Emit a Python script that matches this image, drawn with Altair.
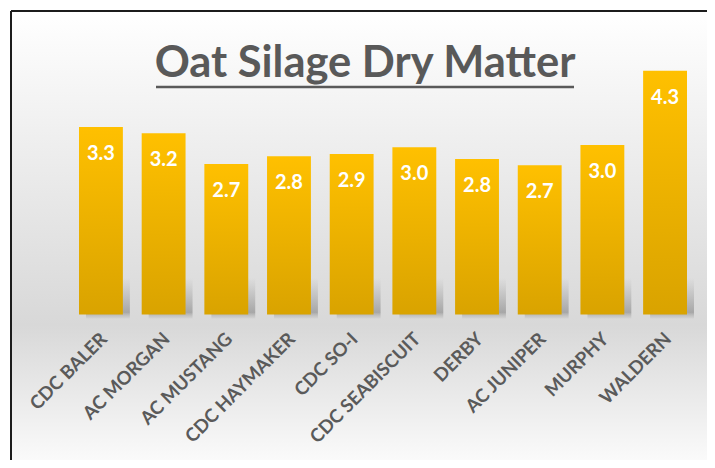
import altair as alt
import pandas as pd

# ---- data ----
varieties = ["CDC BALER", "AC MORGAN", "AC MUSTANG", "CDC HAYMAKER", "CDC SO-I",
             "CDC SEABISCUIT", "DERBY", "AC JUNIPER", "MURPHY", "WALDERN"]
dry_matter = [3.34, 3.23, 2.68, 2.82, 2.86, 2.98, 2.77, 2.66, 3.02, 4.34]
title_text = "Oat Silage Dry Matter"

df = pd.DataFrame({"variety": varieties, "dm": dry_matter})

W, H = 696, 449
ZERO_Y = 303.5  # pixel row of the value 0 inside the view

x_scale = alt.Scale(domain=varieties, range=[68, 676], paddingInner=0.3, paddingOuter=0)
y_scale = alt.Scale(domain=[0, 5.405], range=[ZERO_Y, 0], nice=False, zero=True)

x_enc = alt.X(
    "variety:N", sort=varieties, scale=x_scale,
    axis=alt.Axis(
        title=None, labelAngle=-45, labelAlign="right", labelBaseline="middle",
        labelFont="Lato", labelFontWeight="bold", labelFontSize=18.5,
        labelColor="#5a5a5a", ticks=False, tickSize=0, domain=False, grid=False,
        offset=-(H - ZERO_Y), labelPadding=21, labelOffset=3,
        labelOverlap=False, zindex=2,
    ),
)

bar_fill = alt.LinearGradient(
    gradient="linear", x1=0, x2=0, y1=0, y2=1,
    stops=[alt.GradientStop(color="#FFC000", offset=0),
           alt.GradientStop(color="#D9A300", offset=1)],
)
shadow_fill = alt.LinearGradient(
    gradient="linear", x1=0, x2=0, y1=0, y2=1,
    stops=[alt.GradientStop(color="rgba(120,120,120,0)", offset=0),
           alt.GradientStop(color="rgba(105,105,105,0.45)", offset=0.85),
           alt.GradientStop(color="rgba(150,150,150,0.1)", offset=1)],
)
bg = alt.LinearGradient(
    gradient="linear", x1=0, x2=0, y1=0, y2=1,
    stops=[alt.GradientStop(color="#FFFFFF", offset=0),
           alt.GradientStop(color="#EEEEEE", offset=0.3),
           alt.GradientStop(color="#D8D8D8", offset=0.7),
           alt.GradientStop(color="#FAFAFA", offset=1)],
)

one_row = pd.DataFrame({"t": [title_text]})

background = alt.Chart(one_row).mark_rect(color=bg).encode(
    x=alt.value(0), x2=alt.value(W), y=alt.value(0), y2=alt.value(H)
)
frame_top = alt.Chart(one_row).mark_rule(color="#1c1c1c", strokeWidth=2).encode(
    x=alt.value(0), x2=alt.value(W), y=alt.value(0)
)
frame_left = alt.Chart(one_row).mark_rule(color="#1c1c1c", strokeWidth=2).encode(
    x=alt.value(0), y=alt.value(0), y2=alt.value(H)
)

base = alt.Chart(df)

shadow = base.mark_bar(color=shadow_fill, xOffset=7).encode(
    x=x_enc,
    y=alt.datum(0.65, scale=y_scale, axis=None),
    y2=alt.datum(-0.07),
)

bars = base.mark_bar(color=bar_fill).encode(
    x=x_enc,
    y=alt.Y("dm:Q", scale=y_scale, axis=None),
)

values = base.mark_text(
    baseline="middle", align="center", dy=27, color="white",
    font="Lato", fontWeight="bold", fontSize=20,
).encode(
    x=x_enc,
    y=alt.Y("dm:Q", scale=y_scale, axis=None),
    text=alt.Text("dm:Q", format=".1f"),
)

title = alt.Chart(one_row).mark_text(
    align="center", baseline="alphabetic", font="Lato", fontWeight="bold",
    fontSize=43.5, color="#595959",
).encode(x=alt.value(354), y=alt.value(66), text="t:N")

underline = alt.Chart(one_row).mark_rule(
    color="#595959", strokeWidth=2.5
).encode(x=alt.value(145), x2=alt.value(563), y=alt.value(76))

chart = alt.layer(
    background, shadow, bars, values, title, underline, frame_top, frame_left
).properties(
    width=W, height=H,
    padding={"left": 3, "top": 3, "right": 0, "bottom": 0},
    autosize="none",
).configure_view(stroke=None)

chart.save("out.html", embed_options={"renderer": "svg", "actions": False})
